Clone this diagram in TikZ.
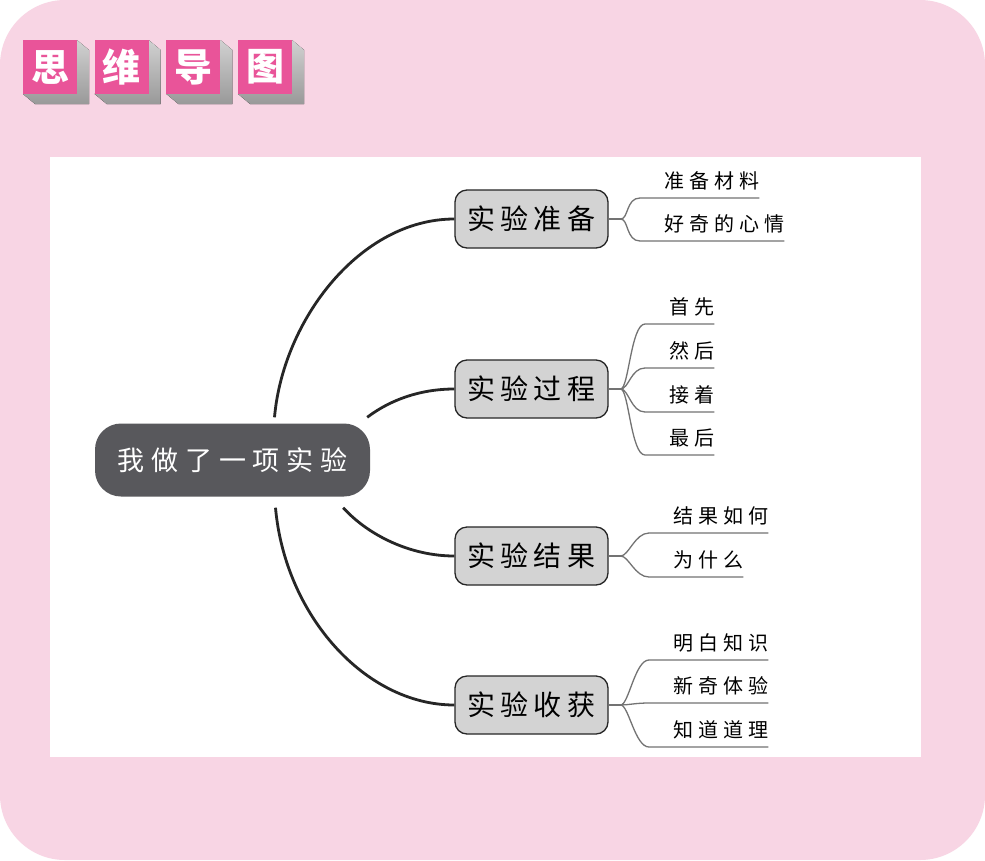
\documentclass[tikz,border=0pt]{standalone}
\usepackage{fontspec}
\usepackage{xcolor}
\usepackage{tikz}

\newfontfamily\rootfont[LetterSpace=25]{Noto Sans CJK SC}
\newfontfamily\branchfont[LetterSpace=18]{Noto Sans CJK SC}
\newfontfamily\leaffont[LetterSpace=25]{Noto Sans CJK SC}
\newfontfamily\tilefont{Noto Sans CJK SC}

\definecolor{bgpink}{RGB}{248,213,228}
\definecolor{tilepink}{RGB}{233,84,153}
\definecolor{rootgray}{RGB}{88,88,92}
\definecolor{branchgray}{RGB}{211,211,211}

\tikzset{
    tilebox/.style={fill=tilepink, text=white, minimum size=54pt, inner sep=0pt,
        font=\tilefont\bfseries\fontsize{38}{38}\selectfont},
    tileside/.style={top color=black!18, bottom color=black!40},
    rootbox/.style={fill=rootgray, text=white, rounded corners=26pt,
        minimum width=275pt, minimum height=73pt, inner sep=0pt,
        font=\rootfont\fontsize{27}{27}\selectfont},
    branchbox/.style={draw=black!85, line width=1.3pt, fill=branchgray, rounded corners=12pt,
        minimum width=153pt, minimum height=58pt, inner sep=0pt,
        font=\branchfont\fontsize{28}{28}\selectfont},
    leafbox/.style={anchor=south west, inner xsep=0pt, inner ysep=8pt,
        font=\leaffont\fontsize{20}{20}\selectfont, execute at begin node={\hspace*{24pt}}},
    limb/.style={line width=2.8pt, black!85},
    twig/.style={line width=1.3pt, black!55}
}

\begin{document}
\begin{tikzpicture}[x=1pt, y=-1pt]
                \useasboundingbox (0,0) rectangle (985,860);
                \fill [white] (0,0) rectangle (985,860);
                \fill [bgpink, rounded corners=65pt] (0,0) rectangle (985,860);
                \fill [white] (50,157) rectangle (921,757);

                % title tiles
                \foreach \ch [count=\i from 0] in {思,维,导,图} {
                    \fill [tileside] ({77+71.7*\i},40) -- ++(12,10) -- ++(0,54) -- ++(-54,0) -- ++(-12,-10) -- cycle;
                    \node [tilebox] (tile\i) at ({50+71.7*\i},67) {\ch};
                }

                \node [rootbox] (exp) at (232.5,460) {我做了一项实验};

                \node [branchbox] (prep) at (531.5,219) {实验准备};
                \node [branchbox] (proc) at (531.5,389) {实验过程};
                \node [branchbox] (result) at (531.5,556) {实验结果};
                \node [branchbox] (gain) at (531.5,705) {实验收获};

                \draw [limb] ([shift={(42,-6)}]exp.north) .. controls (283,320) and (360,219) .. (prep);
                \draw [limb] ([shift={(-3,-6)}]exp.north east) .. controls (390,400) and (420,389) .. (proc);
                \draw [limb] ([shift={(-27,11)}]exp.south east) .. controls (368,535) and (410,556) .. (result);
                \draw [limb] ([shift={(43,11)}]exp.south) .. controls (285,615) and (365,705) .. (gain);

                \node [leafbox] (mat) at (640,198) {准备材料};
                \node [leafbox] (mood) at (640,241) {好奇的心情};
                \node [leafbox] (first) at (645,324) {首先};
                \node [leafbox] (then) at (645,368) {然后};
                \node [leafbox] (next) at (645,412) {接着};
                \node [leafbox] (last) at (645,455) {最后};
                \node [leafbox] (how) at (649,533) {结果如何};
                \node [leafbox] (why) at (649,577) {为什么};
                \node [leafbox] (know) at (649,660) {明白知识};
                \node [leafbox] (novel) at (649,703) {新奇体验};
                \node [leafbox] (reason) at (649,747) {知道道理};

                \draw [twig] (prep.east) -- ++(12,0) coordinate (prepfork);
                \draw [twig] (proc.east) -- ++(12,0) coordinate (procfork);
                \draw [twig] (result.east) -- ++(12,0) coordinate (resultfork);
                \draw [twig] (gain.east) -- ++(12,0) coordinate (gainfork);

                \draw [twig] (prepfork) .. controls +(8,0) and +(-14,0) .. (mat.south west) -- (mat.south east);
                \draw [twig] (prepfork) .. controls +(8,0) and +(-14,0) .. (mood.south west) -- (mood.south east);
                \draw [twig] (procfork) .. controls +(8,0) and +(-14,0) .. (first.south west) -- (first.south east);
                \draw [twig] (procfork) .. controls +(8,0) and +(-14,0) .. (then.south west) -- (then.south east);
                \draw [twig] (procfork) .. controls +(8,0) and +(-14,0) .. (next.south west) -- (next.south east);
                \draw [twig] (procfork) .. controls +(8,0) and +(-14,0) .. (last.south west) -- (last.south east);
                \draw [twig] (resultfork) .. controls +(8,0) and +(-14,0) .. (how.south west) -- (how.south east);
                \draw [twig] (resultfork) .. controls +(8,0) and +(-14,0) .. (why.south west) -- (why.south east);
                \draw [twig] (gainfork) .. controls +(8,0) and +(-14,0) .. (know.south west) -- (know.south east);
                \draw [twig] (gainfork) .. controls +(8,0) and +(-14,0) .. (novel.south west) -- (novel.south east);
                \draw [twig] (gainfork) .. controls +(8,0) and +(-14,0) .. (reason.south west) -- (reason.south east);
\end{tikzpicture}
\end{document}
